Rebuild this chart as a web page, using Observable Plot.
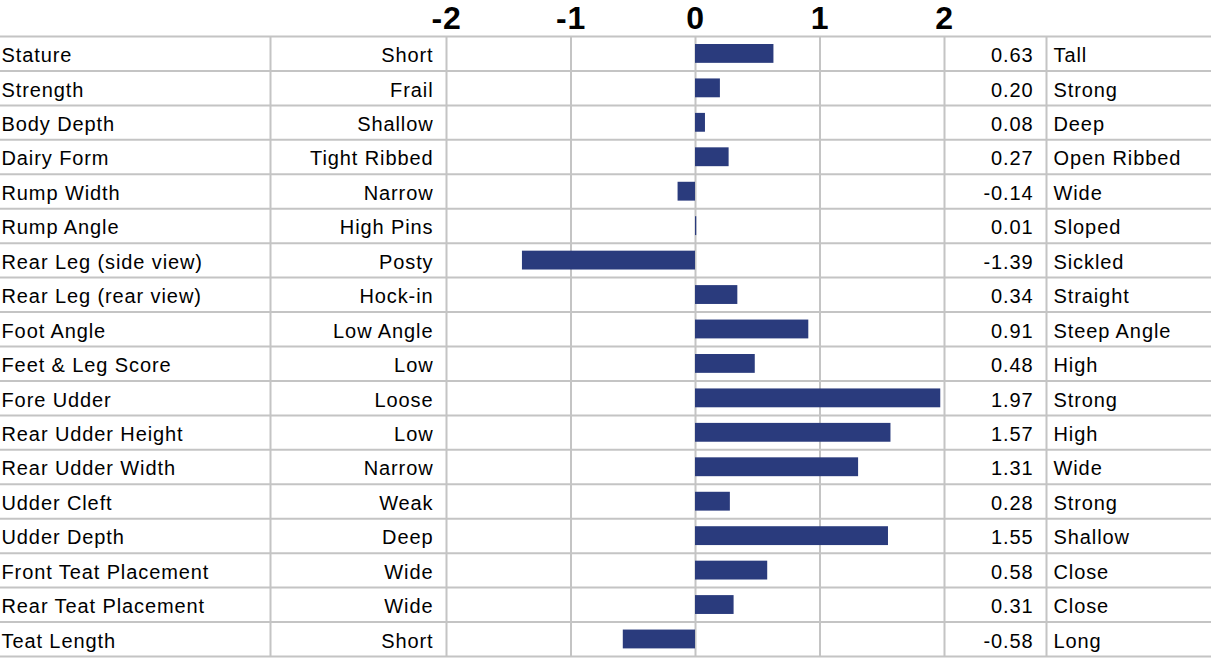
<!DOCTYPE html>
<html>
<head>
<meta charset="utf-8">
<script src="https://cdn.jsdelivr.net/npm/d3@7"></script>
<script src="https://cdn.jsdelivr.net/npm/@observablehq/plot@0.6"></script>
<style>
  html, body { margin: 0; padding: 0; background: #fff; }
  #chart svg { display: block; }
</style>
</head>
<body>
<div id="chart"></div>
<script>
const traits = ["Stature","Strength","Body Depth","Dairy Form","Rump Width","Rump Angle","Rear Leg (side view)","Rear Leg (rear view)","Foot Angle","Feet & Leg Score","Fore Udder","Rear Udder Height","Rear Udder Width","Udder Cleft","Udder Depth","Front Teat Placement","Rear Teat Placement","Teat Length"];
const lowLabels = ["Short","Frail","Shallow","Tight Ribbed","Narrow","High Pins","Posty","Hock-in","Low Angle","Low","Loose","Low","Narrow","Weak","Deep","Wide","Wide","Short"];
const highLabels = ["Tall","Strong","Deep","Open Ribbed","Wide","Sloped","Sickled","Straight","Steep Angle","High","Strong","High","Wide","Strong","Shallow","Close","Close","Long"];
const values = [0.63,0.20,0.08,0.27,-0.14,0.01,-1.39,0.34,0.91,0.48,1.97,1.57,1.31,0.28,1.55,0.58,0.31,-0.58];
const ticks = [-2,-1,0,1,2];

const data = traits.map((t, i) => ({trait: t, low: lowLabels[i], high: highLabels[i], value: values[i]}));

const W = 1211, H = 662;
const gTop = 36, gBottom = 656;
const bw = (gBottom - gTop) / traits.length;
const grid = "#c4c4c4";
const barColor = "#2a3b7d";
const rowText = {fontSize: 20, fill: "#000", dy: 2};

const chart = Plot.plot({
  width: W,
  height: H,
  marginTop: 0, marginBottom: 0, marginLeft: 0, marginRight: 0,
  style: {fontFamily: "'Liberation Sans', Arial, sans-serif", background: "#fff", color: "#000", letterSpacing: "0.9px"},
  x: {domain: [-2, 2], range: [446, 944], axis: null},
  y: {type: "band", domain: traits, range: [gTop, gBottom], padding: 0, round: false, axis: null},
  marks: [
    Plot.ruleY(traits, {y: d => d, dy: -bw / 2, stroke: grid, strokeWidth: 2}),
    Plot.ruleY([traits[traits.length - 1]], {y: d => d, dy: bw / 2, stroke: grid, strokeWidth: 2}),
    Plot.ruleX(ticks, {x: d => d, insetTop: gTop, insetBottom: H - gBottom, stroke: grid, strokeWidth: 2}),
    Plot.ruleX([-2], {x: d => d, dx: -176, insetTop: gTop, insetBottom: H - gBottom, stroke: grid, strokeWidth: 2}),
    Plot.ruleX([2], {x: d => d, dx: 102, insetTop: gTop, insetBottom: H - gBottom, stroke: grid, strokeWidth: 2}),
    Plot.barX(data, {y: "trait", x1: 0, x2: "value", fill: barColor, insetTop: 8, insetBottom: 7.6}),
    Plot.text(ticks, {x: d => d, text: d => String(d), frameAnchor: "top", dy: 18, lineAnchor: "middle", fontSize: 32, fontWeight: "bold", fill: "#000"}),
    Plot.text(data, {y: "trait", text: "trait", frameAnchor: "left", dx: 1, textAnchor: "start", ...rowText}),
    Plot.text(data, {y: "trait", x: () => -2, text: "low", dx: -13, textAnchor: "end", ...rowText}),
    Plot.text(data, {y: "trait", x: () => 2, text: d => d.value.toFixed(2), dx: 89, textAnchor: "end", ...rowText}),
    Plot.text(data, {y: "trait", x: () => 2, text: "high", dx: 109, textAnchor: "start", ...rowText})
  ]
});
document.getElementById("chart").appendChild(chart);
</script>
</body>
</html>
